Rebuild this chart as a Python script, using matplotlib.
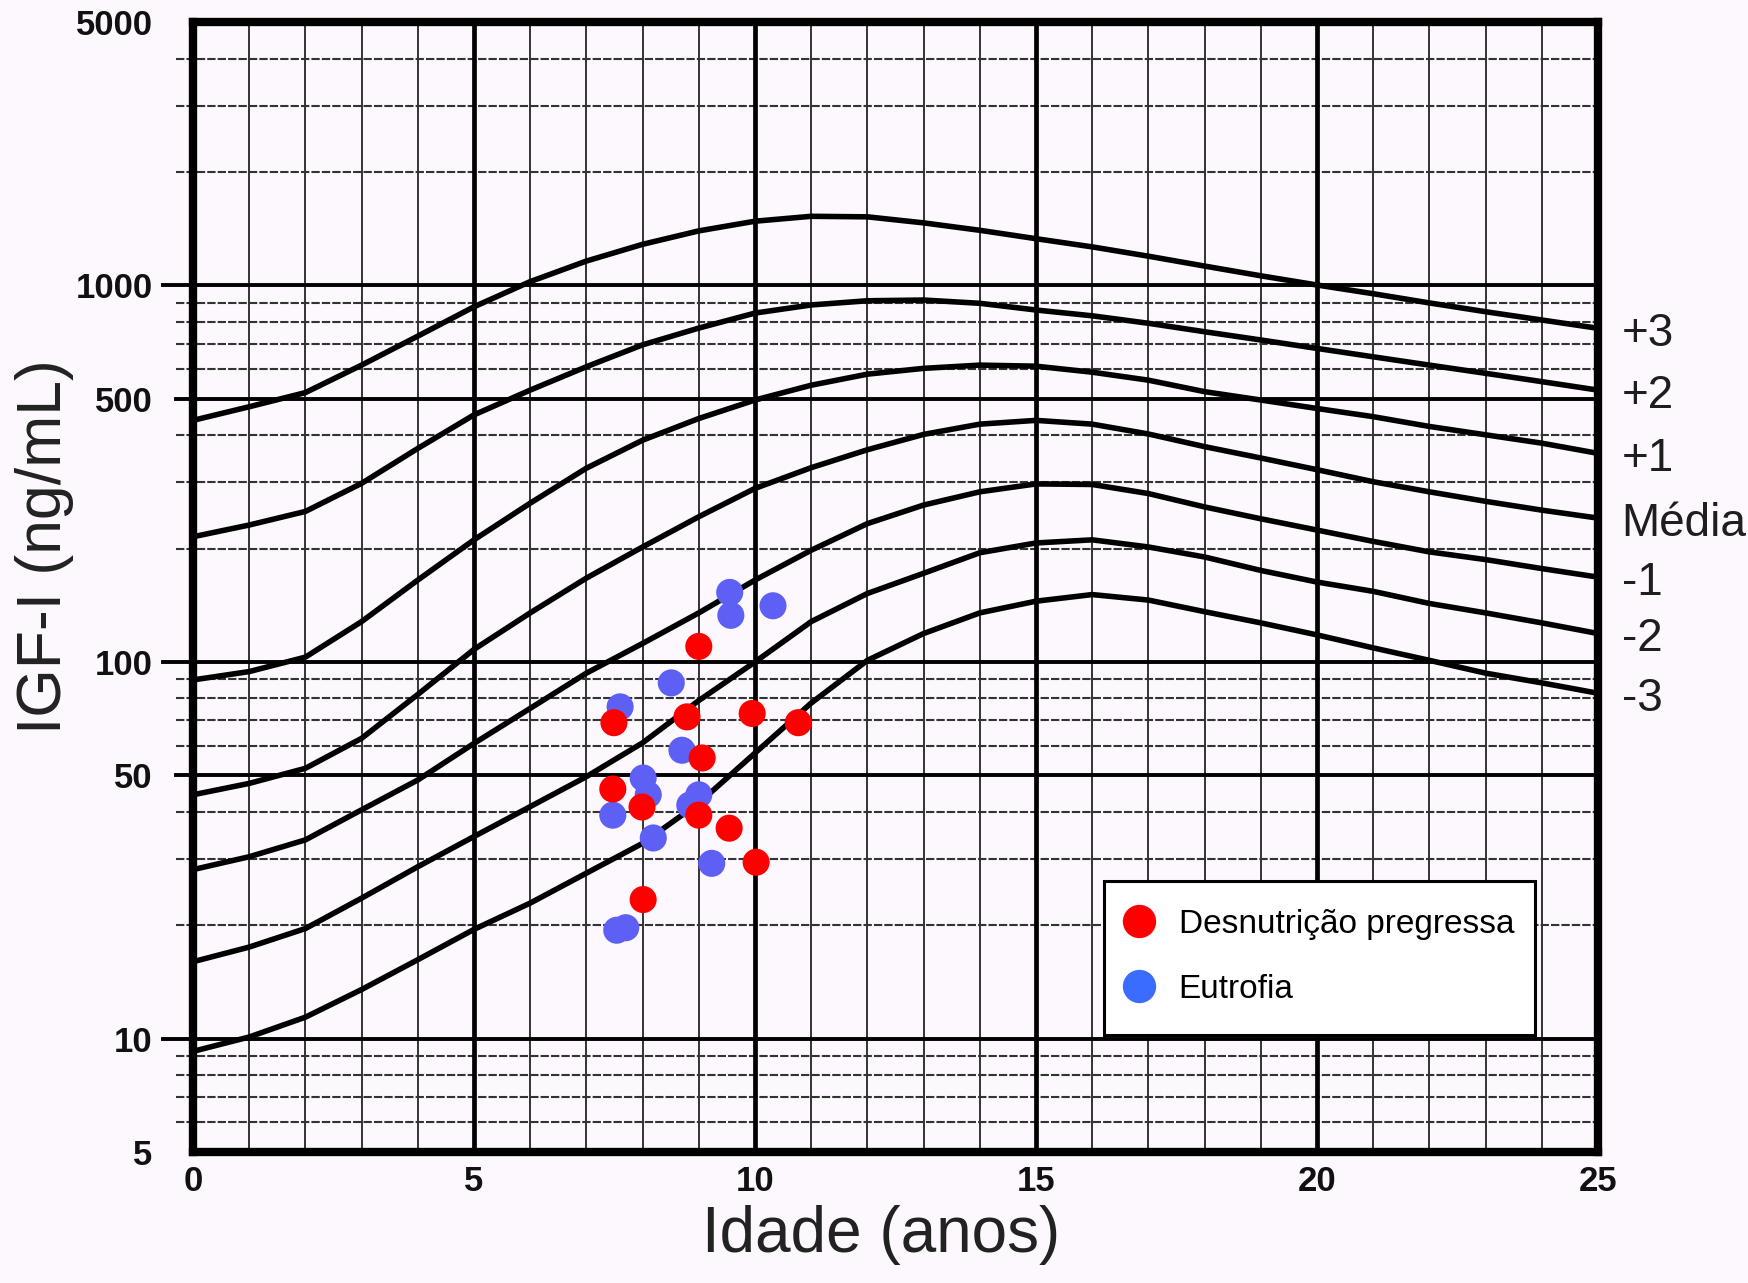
import matplotlib.pyplot as plt
from matplotlib.lines import Line2D
from matplotlib.patches import Rectangle

plt.rcParams['font.family'] = ['Liberation Sans', 'DejaVu Sans']

bg = '#fdf8fd'

# curvas de referencia IGF-I (ng/mL) por idade, desvios-padrão
idade = list(range(0, 26))
igf_p3 = [438, 476, 519, 614, 733, 877, 1023, 1160, 1285, 1395, 1480, 1525, 1520,
          1465, 1400, 1330, 1265, 1195, 1125, 1060, 1002, 950, 898, 851, 809, 769]
igf_p2 = [215, 231, 251, 298, 369, 453, 527, 608, 695, 770, 844, 887, 910,
          914, 896, 860, 830, 793, 753, 716, 680, 646, 614, 584, 555, 527]
igf_p1 = [89.6, 94.3, 103, 128, 165, 211, 264, 327, 388, 443, 496, 543, 581,
          602, 614, 610, 588, 560, 522, 496, 471, 448, 422, 401, 381, 358]
igf_media = [44.4, 47.6, 52.2, 62.7, 82, 108, 135, 167, 202, 243, 289, 328, 366,
             402, 428, 438, 428, 403, 373, 348, 324, 301, 283, 267, 253, 241]
igf_m1 = [28.1, 30.4, 33.7, 40.5, 48.6, 60.8, 75.3, 93.4, 112, 135, 165, 198, 233,
          261, 283, 297, 296, 280, 258, 240, 224, 209, 196, 187, 177, 168]
igf_m2 = [16.0, 17.5, 19.6, 23.6, 28.6, 34.4, 41.3, 49.6, 61, 79, 100, 128, 152,
          172, 195, 207, 211, 202, 190, 175, 163, 154, 143, 135, 127, 119]
igf_m3 = [9.25, 10.1, 11.4, 13.5, 16.2, 19.5, 22.9, 27.5, 33.0, 42.2, 57.3, 77.8, 101,
          119, 135, 145, 151, 146, 136, 127, 118, 109, 101, 93.4, 88, 82.6]
curvas = [igf_p3, igf_p2, igf_p1, igf_media, igf_m1, igf_m2, igf_m3]
rotulos = ['+3', '+2', '+1', 'Média', '-1', '-2', '-3']

# pacientes
desnut_idade = [9.00, 7.49, 8.79, 9.95, 10.77, 9.06, 7.47, 7.99, 9.00, 9.54, 10.02, 8.01]
desnut_igf = [110, 69, 71.5, 73, 69, 55.6, 46, 41.2, 39.2, 36.2, 29.4, 23.4]
eutro_idade = [9.55, 9.57, 10.32, 8.51, 7.60, 8.70, 8.01, 8.10, 7.47, 9.00, 8.84, 8.19,
               9.23, 7.54, 7.70]
eutro_igf = [153, 133, 141, 88, 76, 58.3, 49.2, 44.4, 39.2, 44.4, 41.7, 34.1,
             29.2, 19.4, 19.7]

xticks = [0, 5, 10, 15, 20, 25]
yticks = [5, 10, 50, 100, 500, 1000, 5000]
linhas_fortes = [10, 100, 1000]
linhas_medias = [50, 500]
linhas_fracas = [6, 7, 8, 9, 20, 30, 40, 60, 70, 80, 90, 200, 300, 400,
                 600, 700, 800, 900, 2000, 3000, 4000]

fig = plt.figure(figsize=(17.48, 12.83), dpi=100, facecolor=bg)
ax = fig.add_axes([0.1104, 0.1021, 0.8038, 0.8807])
ax.set_facecolor(bg)
ax.set_yscale('log')
ax.set_xlim(0, 25)
ax.set_ylim(5, 5000)

# papel milimetrado
for a in range(1, 25):
    if a % 5 == 0:
        ax.axvline(a, color='black', lw=3.4, zorder=2)
    else:
        ax.axvline(a, color='#333333', lw=1.4, zorder=1)
for v in linhas_fracas:
    ax.axhline(v, xmin=-0.012, color='#333333', lw=1.5, dashes=(4, 1),
               clip_on=False, zorder=1)
for v in linhas_medias:
    ax.axhline(v, xmin=-0.012, color='black', lw=2.8, clip_on=False, zorder=2)
for v in linhas_fortes:
    ax.axhline(v, xmin=-0.021, color='black', lw=2.8, clip_on=False, zorder=2)

for vals, lab in zip(curvas, rotulos):
    ax.plot(idade, vals, color='black', lw=4.0, zorder=3)
    ax.annotate(lab, xy=(25, vals[-1]), xytext=(17, -4), textcoords='offset points',
                fontsize=33, va='center', ha='left', color='#1e1e1e',
                annotation_clip=False)

ax.scatter(eutro_idade, eutro_igf, s=380, color='#5d5ff5', edgecolors='none', zorder=4)
ax.scatter(desnut_idade, desnut_igf, s=380, color='#ff0000', edgecolors='none', zorder=4)

ax.set_xticks(xticks)
ax.set_xticklabels([str(x) for x in xticks])
ax.set_yticks(yticks)
ax.set_yticklabels([str(y) for y in yticks])
ax.minorticks_off()
ax.tick_params(axis='both', length=0, labelsize=25, colors='#111111')
ax.tick_params(axis='y', pad=29)
ax.tick_params(axis='x', pad=9)
for t in ax.get_xticklabels() + ax.get_yticklabels():
    t.set_fontweight('bold')
for s in ax.spines.values():
    s.set_linewidth(6)
    s.set_zorder(5)

ax.set_xlabel('Idade (anos)', fontsize=46, color='#222222')
ax.xaxis.set_label_coords(0.490, -0.047)
ax.set_ylabel('IGF-I (ng/mL)', fontsize=45, color='#222222')
ax.yaxis.set_label_coords(-0.0845, 0.536)

ax.add_patch(Rectangle((0.6484, 0.1035), 0.3068, 0.1363, transform=ax.transAxes,
                       facecolor='white', edgecolor='black', lw=2.2, zorder=6))
handles = [Line2D([], [], marker='o', ls='none', markersize=24,
                  markerfacecolor='#ff0000', markeredgecolor='none'),
           Line2D([], [], marker='o', ls='none', markersize=24,
                  markerfacecolor='#3a6cff', markeredgecolor='none')]
leg = ax.legend(handles, ['Desnutrição pregressa', 'Eutrofia'], loc='upper left',
                bbox_to_anchor=(0.6484, 0.2398), frameon=False, fontsize=24,
                borderaxespad=0, borderpad=0.83, handlelength=0.46,
                handletextpad=0.95, labelspacing=1.02)
leg.set_zorder(7)

fig.savefig('out.png', dpi=100, facecolor=bg)
